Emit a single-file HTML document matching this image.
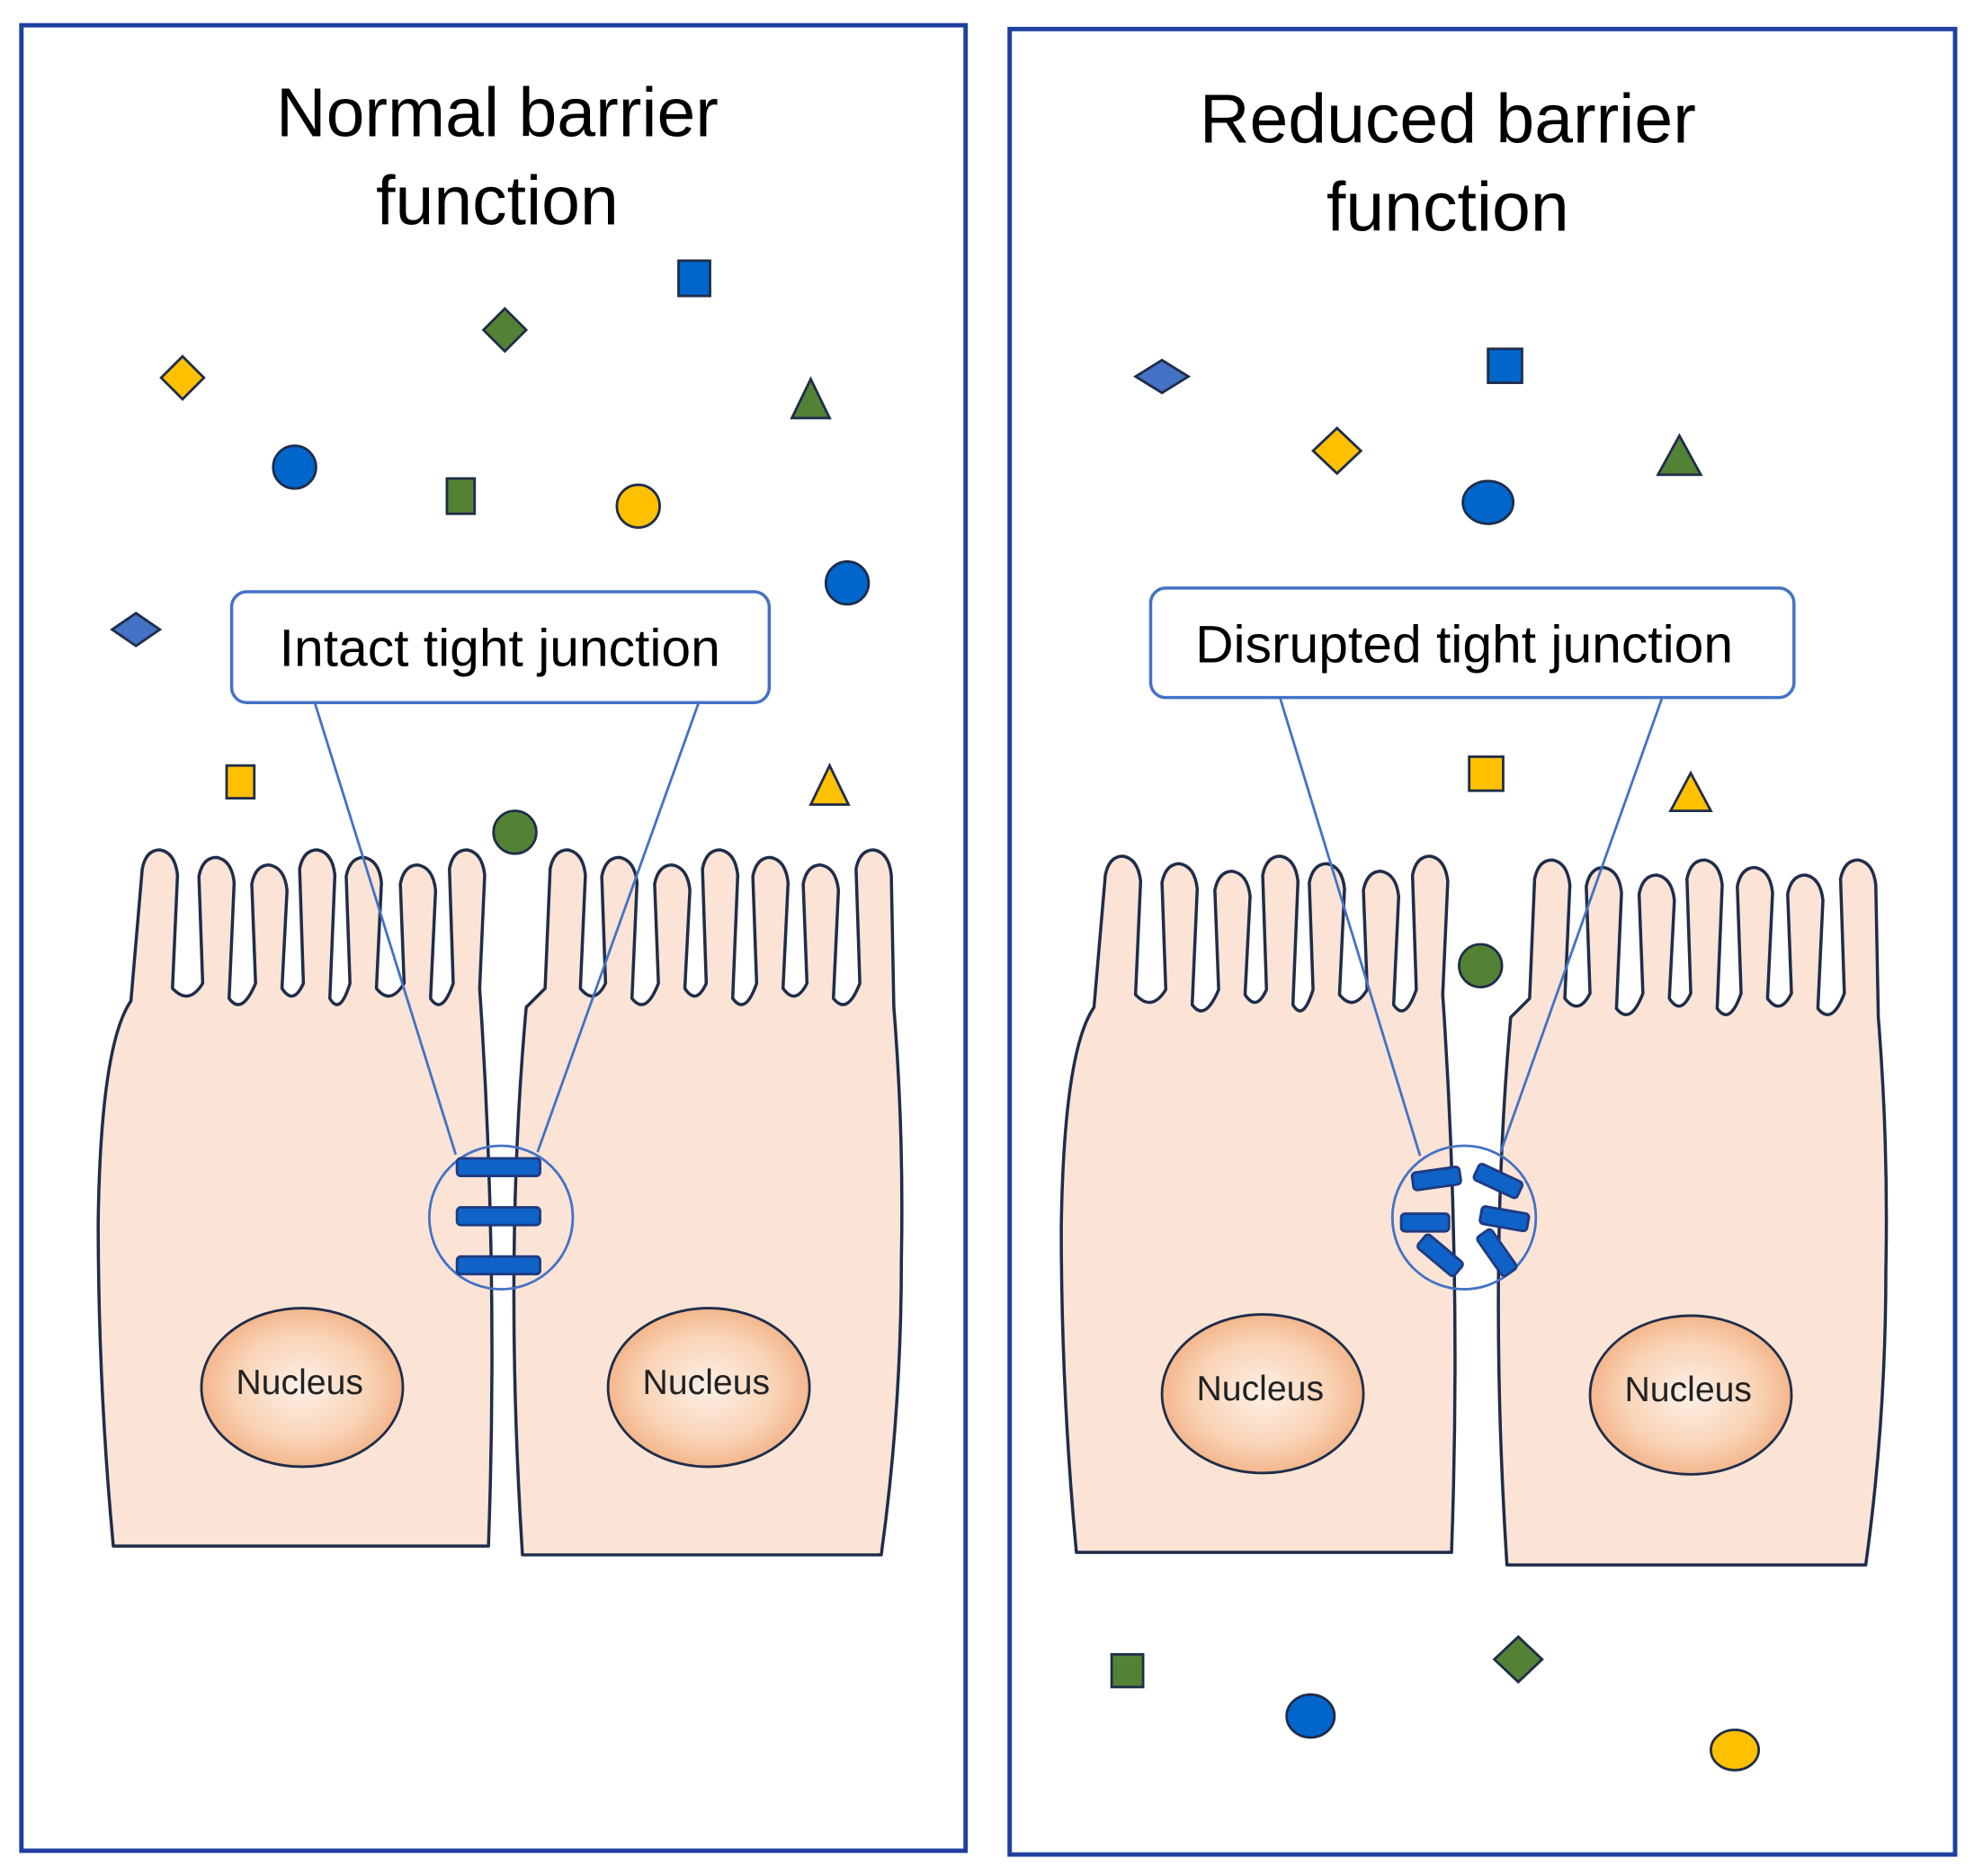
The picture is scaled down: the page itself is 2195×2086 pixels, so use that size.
<!DOCTYPE html>
<html><head><meta charset="utf-8"><style>html,body{margin:0;padding:0;background:#fff}svg{display:block}</style></head>
<body>
<svg width="2195" height="2086" viewBox="0 0 1568 1490" xmlns="http://www.w3.org/2000/svg" xmlns:xlink="http://www.w3.org/1999/xlink" font-family="Liberation Sans, sans-serif">
<defs>
<radialGradient id="ng" cx="50%" cy="50%" r="55%"><stop offset="0" stop-color="#fdf1e8"/><stop offset="0.6" stop-color="#f9d3b6"/><stop offset="1" stop-color="#f2ae80"/></radialGradient>
<path id="cellA" d="M90,1228 Q78,1100 78,970 Q80,830 104,795 L113,690 Q116,675 127,675 Q139,677 141,695 L137,785 Q150,799 161,781 L158,696 Q161,681 172,681 Q184,683 186,701 L182,793 Q192,807 203,781 L200,702 Q203,687 214,687 Q226,689 228,707 L224,785 Q233,799 241,781 L238,690 Q241,675 252,675 Q264,677 266,695 L262,793 Q270,807 278,781 L275,696 Q278,681 289,681 Q301,683 303,701 L299,785 Q310,799 321,781 L318,702 Q321,687 332,687 Q344,689 346,707 L342,793 Q351,807 360,781 L357,690 Q360,675 371,675 Q383,677 385,695 L381,785 Q396,1006 388,1228 Z" fill="#fbe3d6" stroke="#1f2d4a" stroke-width="2.5" stroke-linejoin="round"/>
<path id="cellB" d="M415,1235 Q400,1000 418,800 L433,785 L437,690 Q440,675 451,675 Q463,677 465,695 L461,785 Q472,799 481,781 L478,696 Q481,681 492,681 Q504,683 506,701 L502,793 Q513,807 523,781 L520,702 Q523,687 534,687 Q546,689 548,707 L544,785 Q553,799 561,781 L558,690 Q561,675 572,675 Q584,677 586,695 L582,793 Q592,807 601,781 L598,696 Q601,681 612,681 Q624,683 626,701 L622,785 Q632,799 641,781 L638,702 Q641,687 652,687 Q664,689 666,707 L662,793 Q673,807 683,781 L680,690 Q683,675 694,675 Q706,677 708,695 L710,800 Q718,900 716,1000 Q716,1120 700,1235 Z" fill="#fbe3d6" stroke="#1f2d4a" stroke-width="2.5" stroke-linejoin="round"/>
</defs>
<rect x="0" y="0" width="1568" height="1490" fill="#fff"/>
<rect x="17" y="20" width="750" height="1450" fill="none" stroke="#1f3fa0" stroke-width="3.5"/>
<rect x="802" y="23" width="751" height="1450" fill="none" stroke="#1f3fa0" stroke-width="3.5"/>
<g font-size="55" text-anchor="middle" fill="#000">
<text x="395" y="108">Normal barrier</text><text x="395" y="178">function</text>
<text x="1150" y="113">Reduced barrier</text><text x="1150" y="183">function</text>
</g>
<use xlink:href="#cellA"/>
<use xlink:href="#cellB"/>
<use xlink:href="#cellA" transform="translate(765,5)"/>
<use xlink:href="#cellB" transform="translate(782,8)"/>
<g stroke="#1f2d4a" stroke-width="2">
<polygon points="145,283 162,300 145,317 128,300" fill="#ffc000"/>
<polygon points="401,245 418,262 401,279 384,262" fill="#548235"/>
<rect x="539" y="207" width="25" height="28" fill="#0066cc"/>
<polygon points="644,301 659,332 629,332" fill="#548235"/>
<circle cx="234" cy="371" r="17" fill="#0066cc"/>
<rect x="355" y="380" width="22" height="28" fill="#548235"/>
<circle cx="507" cy="402" r="17" fill="#ffc000"/>
<circle cx="673" cy="463" r="17" fill="#0066cc"/>
<polygon points="108,487 127,500 108,513 89,500" fill="#4472c4"/>
<rect x="180" y="608" width="22" height="26" fill="#ffc000"/>
<polygon points="659,608 674,639 644,639" fill="#ffc000"/>
<circle cx="409" cy="661" r="17" fill="#548235"/>
<polygon points="923,286 944,299 923,312 902,299" fill="#4472c4"/>
<rect x="1182" y="277" width="27" height="27" fill="#0066cc"/>
<polygon points="1062,340 1081,358 1062,376 1043,358" fill="#ffc000"/>
<polygon points="1334,346 1351,377 1317,377" fill="#548235"/>
<ellipse cx="1182" cy="399" rx="20" ry="17" fill="#0066cc"/>
<rect x="1167" y="601" width="27" height="27" fill="#ffc000"/>
<polygon points="1343,614 1359,644 1327,644" fill="#ffc000"/>
<circle cx="1176" cy="767" r="17" fill="#548235"/>
<rect x="883" y="1314" width="25" height="26" fill="#548235"/>
<ellipse cx="1041" cy="1363" rx="19" ry="17" fill="#0066cc"/>
<polygon points="1206,1300 1225,1318 1206,1336 1187,1318" fill="#548235"/>
<ellipse cx="1378" cy="1390" rx="19" ry="16" fill="#ffc000"/>
</g>
<g stroke="#1f2d4a" stroke-width="2" fill="url(#ng)">
<ellipse cx="240" cy="1102" rx="80" ry="63"/>
<ellipse cx="563" cy="1102" rx="80" ry="63"/>
<ellipse cx="1003" cy="1107" rx="80" ry="63"/>
<ellipse cx="1343" cy="1108" rx="80" ry="63"/>
</g>
<g font-size="28" text-anchor="middle" fill="#222">
<text x="238" y="1107">Nucleus</text><text x="561" y="1107">Nucleus</text>
<text x="1001" y="1112">Nucleus</text><text x="1341" y="1113">Nucleus</text>
</g>
<g fill="none" stroke="#4472c4" stroke-width="2">
<line x1="250" y1="558" x2="362" y2="917"/><line x1="555" y1="558" x2="427" y2="915"/>
<circle cx="398" cy="967" r="57"/>
<line x1="1017" y1="555" x2="1128" y2="918"/><line x1="1320" y1="555" x2="1192" y2="915"/>
<circle cx="1163" cy="967" r="57"/>
</g>
<rect x="184" y="470" width="427" height="88" rx="12" fill="#fff" stroke="#4472c4" stroke-width="2.5"/>
<rect x="914" y="467" width="511" height="87" rx="12" fill="#fff" stroke="#4472c4" stroke-width="2.5"/>
<g font-size="42" text-anchor="middle" fill="#000">
<text x="397" y="529">Intact tight junction</text>
<text x="1163" y="526">Disrupted tight junction</text>
</g>
<g fill="#0f62c8" stroke="#1f3a80" stroke-width="2">
<rect x="363" y="920" width="66" height="14" rx="3"/>
<rect x="363" y="959" width="66" height="14" rx="3"/>
<rect x="363" y="998" width="66" height="14" rx="3"/>
<rect x="1122" y="929" width="38" height="14" rx="3" transform="rotate(-8 1141 936)"/>
<rect x="1113" y="964" width="38" height="14" rx="3"/>
<rect x="1125" y="990" width="38" height="14" rx="3" transform="rotate(40 1144 997)"/>
<rect x="1171" y="931" width="38" height="14" rx="3" transform="rotate(25 1190 938)"/>
<rect x="1176" y="961" width="38" height="14" rx="3" transform="rotate(10 1195 968)"/>
<rect x="1170" y="988" width="38" height="14" rx="3" transform="rotate(55 1189 995)"/>
</g>
</svg>
</body></html>
